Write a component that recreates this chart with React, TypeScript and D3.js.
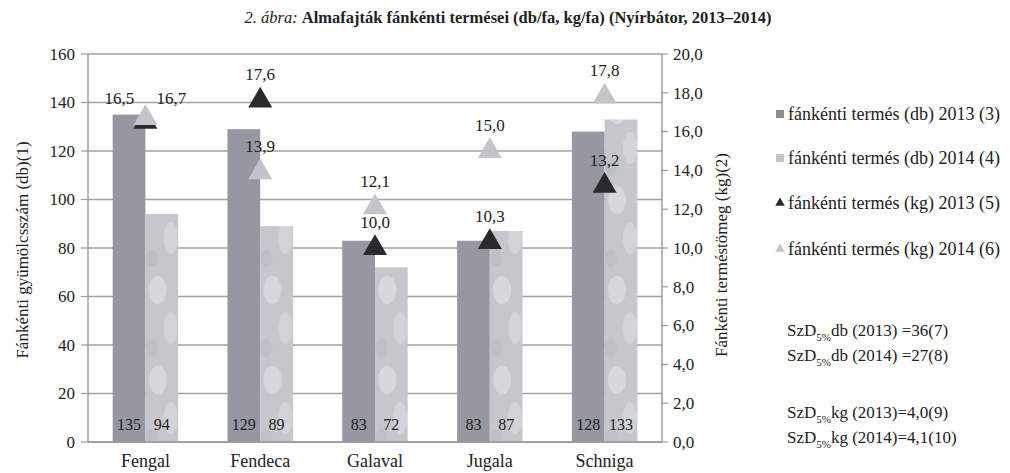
import * as d3 from 'd3';

const W = 1010;
const H = 473;
const PLOT = { left: 88, right: 662, top: 54, bottom: 442 };

const varieties = ['Fengal', 'Fendeca', 'Galaval', 'Jugala', 'Schniga'];
const db2013 = [135, 129, 83, 83, 128];
const db2014 = [94, 89, 72, 87, 133];
const kg2013 = [16.5, 17.6, 10.0, 10.3, 13.2];
const kg2014 = [16.7, 13.9, 12.1, 15.0, 17.8];
const leftTicks = [0, 20, 40, 60, 80, 100, 120, 140, 160];
const rightTicks = [0, 2, 4, 6, 8, 10, 12, 14, 16, 18, 20];

const legendLabels = [
  'fánkénti termés (db) 2013 (3)',
  'fánkénti termés (db) 2014 (4)',
  'fánkénti termés (kg) 2013 (5)',
  'fánkénti termés (kg) 2014 (6)',
];
const lsdLines = [
  { unit: 'db', rest: ' (2013) =36(7)' },
  { unit: 'db', rest: ' (2014) =27(8)' },
  { unit: 'kg', rest: ' (2013)=4,0(9)' },
  { unit: 'kg', rest: ' (2014)=4,1(10)' },
];

const FONT = "'Liberation Serif'";
const DARK_BAR = '#9698a1';
const LIGHT_BAR = '#c6c7cc';
const DARK_TRI = '#2a2a2c';
const LIGHT_TRI = '#c3c5cb';
const GRID = '#a2a2a2';
const INK = '#222';

const comma = (v: number) => v.toFixed(1).replace('.', ',');

export default function App() {
  const x0 = d3
    .scaleBand<string>()
    .domain(varieties)
    .range([PLOT.left, PLOT.right])
    .paddingInner(0.43)
    .paddingOuter(0.215);
  const x1 = d3.scaleBand<string>().domain(['2013', '2014']).range([0, x0.bandwidth()]);
  const yDb = d3.scaleLinear().domain([0, 160]).range([PLOT.bottom, PLOT.top]);
  const yKg = d3.scaleLinear().domain([0, 20]).range([PLOT.bottom, PLOT.top]);
  const tri = d3.symbol().type(d3.symbolTriangle).size(250)();
  const triSmall = d3.symbol().type(d3.symbolTriangle).size(40)();
  const cx = (c: string) => (x0(c) ?? 0) + x0.bandwidth() / 2;

  // kg labels sit above the marker, pushed sideways when the two years collide
  const kgLabels = varieties.flatMap((c, i) => {
    const ya = yKg(kg2013[i]);
    const yb = yKg(kg2014[i]);
    const clash = Math.abs(ya - yb) < 20;
    const ly = Math.min(ya, yb) - 20;
    return [
      { key: `a${i}`, x: cx(c) + (clash ? -26 : 0), y: clash ? ly : ya - 26, t: comma(kg2013[i]) },
      { key: `b${i}`, x: cx(c) + (clash ? 26 : 0), y: clash ? ly : yb - 26, t: comma(kg2014[i]) },
    ];
  });

  const legendY = [114, 158, 203, 249];
  const lsdY = [330, 355, 412, 437];
  const txt = { fontFamily: FONT, fill: INK } as const;

  return (
    <svg width={W} height={H} style={{ position: 'absolute', left: 0, top: 0, background: '#fff', fontFamily: FONT }}>
      <defs>
        <pattern id="mottle" width="33" height="90" patternUnits="userSpaceOnUse">
          <rect width="33" height="90" fill={LIGHT_BAR} />
          <ellipse cx="12" cy="20" rx="9" ry="14" fill="#e8eaee" opacity="0.5" />
          <ellipse cx="25" cy="58" rx="7" ry="16" fill="#e3e5e9" opacity="0.45" />
          <ellipse cx="6" cy="78" rx="6" ry="9" fill="#b4b6bc" opacity="0.4" />
        </pattern>
      </defs>

      <text x={508} y={23} textAnchor="middle" fontSize={16.5} style={txt}>
        <tspan fontStyle="italic">2. ábra: </tspan>
        <tspan fontWeight="bold">Almafajták fánkénti termései (db/fa, kg/fa) (Nyírbátor, 2013–2014)</tspan>
      </text>

      {leftTicks.map((t) => (
        <line key={t} x1={PLOT.left} x2={PLOT.right} y1={yDb(t)} y2={yDb(t)} stroke={GRID} strokeWidth={1.6} />
      ))}

      {varieties.map((c, i) => (
        <g key={c} transform={`translate(${x0(c)},0)`}>
          <rect x={x1('2013')} y={yDb(db2013[i])} width={x1.bandwidth()} height={PLOT.bottom - yDb(db2013[i])} fill={DARK_BAR} />
          <rect x={x1('2014')} y={yDb(db2014[i])} width={x1.bandwidth()} height={PLOT.bottom - yDb(db2014[i])} fill="url(#mottle)" />
          <text x={(x1('2013') ?? 0) + x1.bandwidth() / 2} y={PLOT.bottom - 12} textAnchor="middle" fontSize={16} style={txt}>
            {db2013[i]}
          </text>
          <text x={(x1('2014') ?? 0) + x1.bandwidth() / 2} y={PLOT.bottom - 12} textAnchor="middle" fontSize={16} style={txt}>
            {db2014[i]}
          </text>
        </g>
      ))}

      <line x1={PLOT.left} x2={PLOT.left} y1={PLOT.top} y2={PLOT.bottom} stroke="#999" strokeWidth={1.4} />
      <line x1={PLOT.right} x2={PLOT.right} y1={PLOT.top} y2={PLOT.bottom} stroke="#999" strokeWidth={1.4} />
      <line x1={PLOT.left} x2={PLOT.right} y1={PLOT.bottom} y2={PLOT.bottom} stroke="#999" strokeWidth={1.6} />
      {leftTicks.map((t) => (
        <g key={t}>
          <line x1={PLOT.left - 7} x2={PLOT.left} y1={yDb(t)} y2={yDb(t)} stroke="#999" strokeWidth={1.2} />
          <text x={PLOT.left - 13} y={yDb(t)} dy="0.34em" textAnchor="end" fontSize={17} style={txt}>
            {t}
          </text>
        </g>
      ))}
      {rightTicks.map((t) => (
        <g key={t}>
          <line x1={PLOT.right} x2={PLOT.right + 6} y1={yKg(t)} y2={yKg(t)} stroke="#999" strokeWidth={1.2} />
          <text x={PLOT.right + 11} y={yKg(t)} dy="0.34em" fontSize={17} style={txt}>
            {comma(t)}
          </text>
        </g>
      ))}
      {varieties.map((c) => (
        <text key={c} x={cx(c)} y={467} textAnchor="middle" fontSize={18} style={txt}>
          {c}
        </text>
      ))}

      <text transform="translate(28,250) rotate(-90)" textAnchor="middle" fontSize={17} style={txt}>
        Fánkénti gyümölcsszám (db)(1)
      </text>
      <text transform="translate(727,255) rotate(-90)" textAnchor="middle" fontSize={17} style={txt}>
        Fánkénti terméstömeg (kg)(2)
      </text>

      {varieties.map((c, i) => (
        <g key={c}>
          <path d={tri} transform={`translate(${cx(c)},${yKg(kg2013[i])})`} fill={DARK_TRI} />
          <path d={tri} transform={`translate(${cx(c)},${yKg(kg2014[i])})`} fill={LIGHT_TRI} />
        </g>
      ))}
      {kgLabels.map((l) => (
        <text key={l.key} x={l.x} y={l.y} dy="0.34em" textAnchor="middle" fontSize={17} style={txt}>
          {l.t}
        </text>
      ))}

      {legendLabels.map((t, i) => (
        <g key={t} transform={`translate(780,${legendY[i]})`}>
          {i < 2 ? (
            <rect x={-4} y={-4} width={8} height={8} fill={i === 0 ? '#8c8e96' : '#c2c3c8'} />
          ) : (
            <path d={triSmall} fill={i === 2 ? DARK_TRI : LIGHT_TRI} />
          )}
          <text x={8} dy="0.34em" fontSize={18} style={txt}>
            {t}
          </text>
        </g>
      ))}
      {lsdLines.map((l, i) => (
        <text key={i} x={787} y={lsdY[i]} dy="0.34em" fontSize={17} style={txt}>
          SzD
          <tspan fontSize={11} dy={5}>5%</tspan>
          <tspan dy={-5}>{l.unit}{l.rest}</tspan>
        </text>
      ))}
    </svg>
  );
}
